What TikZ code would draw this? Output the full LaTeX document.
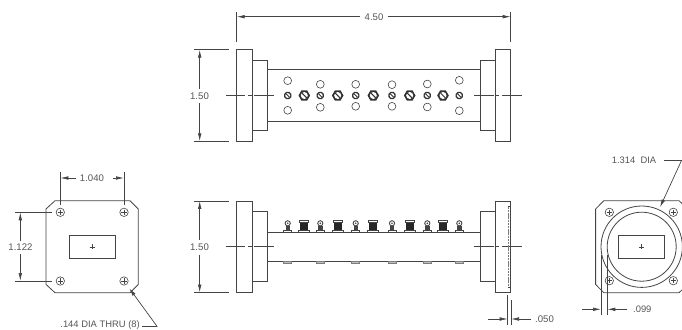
\documentclass[tikz,border=0pt]{standalone}
\usepackage{fontspec}
\setmainfont{Liberation Sans}
\usetikzlibrary{arrows.meta}
\definecolor{ink}{HTML}{444444}
\definecolor{txt}{HTML}{555555}
\tikzset{
  part/.style={draw=ink,line width=0.8pt},
  thin part/.style={draw=ink,line width=0.6pt},
  dimline/.style={draw=ink,line width=0.7pt},
  arr/.style={dimline,-{Latex[length=8pt,width=3.6pt]}},
  lab/.style={text=txt,font=\fontsize{9.6}{10}\selectfont,inner sep=0pt},
  labsm/.style={text=txt,font=\fontsize{9.4}{10}\selectfont,inner sep=0pt},
}
\newcommand{\octa}[3]{% x y r
  \fill[black!80] (#1,#2) +(22.5:#3) -- +(67.5:#3) -- +(112.5:#3) -- +(157.5:#3) -- +(202.5:#3) -- +(247.5:#3) -- +(292.5:#3) -- +(337.5:#3) -- cycle;
  \fill[white] (#1,#2) circle ({0.62*#3});
  \draw[black!80,line width=0.9pt] (#1,#2) +(45:{0.62*#3}) -- +(225:{0.62*#3});
}
\newcommand{\hexa}[3]{% x y r
  \fill[black!80] (#1,#2) +(0:#3) -- +(60:#3) -- +(120:#3) -- +(180:#3) -- +(240:#3) -- +(300:#3) -- cycle;
  \fill[white] (#1,#2) circle ({0.6*#3});
  \draw[black!80,line width=1pt] (#1,#2) +(45:{0.6*#3}) -- +(225:{0.6*#3});
}
\newcommand{\topsmall}[1]{%
  \fill[ink] (#1-2.2,230.5) rectangle (#1+2.2,226);
  \draw[ink,line width=0.7pt] (#1-4,232.3) -- (#1-4,230.2) -- (#1+4,230.2) -- (#1+4,232.3);
  \fill[white,draw=ink,line width=0.9pt] (#1,223.3) circle (2.6);
  \fill[ink] (#1,223.3) circle (0.9);
}
\newcommand{\toplarge}[1]{%
  \fill[black!85] (#1-4,222.7) rectangle (#1+4,230.4);
  \draw[ink,line width=0.9pt] (#1-4.6,220.6) rectangle (#1+4.6,222.4);
  \draw[ink,line width=0.7pt] (#1-5.5,232.3) -- (#1-5.5,230.3) -- (#1+5.5,230.3) -- (#1+5.5,232.3);
}
\newcommand{\tab}[1]{%
  \fill[black!25,draw=ink!70,line width=0.5pt] (#1-4,261.3) rectangle (#1+4,263.7);
}
\newcommand{\hole}[2]{%
  \draw[thin part] (#1,#2) circle (4.2);
  \draw[ink,line width=0.5pt] (#1-2.6,#2) -- (#1+2.6,#2) (#1,#2-2.6) -- (#1,#2+2.6);
}
\newcommand{\flangeview}[1]{%
  \draw[part] (236.7,#1-45.8) rectangle (252,#1+45.8);
  \draw[part] (252,#1-35) rectangle (267.3,#1+35);
  \draw[part] (480.3,#1-35) rectangle (495.3,#1+35);
  \draw[part] (495.3,#1-45.8) rectangle (510.7,#1+45.8);
  \draw[thin part] (226,#1) -- (245.3,#1) (248.3,#1) -- (252,#1) (254,#1) -- (273.7,#1);
  \draw[thin part] (474,#1) -- (494.3,#1) (495.7,#1) -- (499.3,#1) (502,#1) -- (521.7,#1);
}
\begin{document}
\begin{tikzpicture}[x=1pt,y=-1pt]
\useasboundingbox (0,0) rectangle (682,329);
\clip (0,0) rectangle (682,329);

% ---- top view
\flangeview{95.5}
\draw[part] (267.3,69.7) -- (480.3,69.7) (267.3,121.3) -- (480.3,121.3);
\foreach \x/\a/\b in {287.7/80.7/110.3,320.3/84.3/107.3,355.7/84.3/106.3,392/84.7/106.3,427.3/84/107,459.3/80.3/110.7}{
  \draw[thin part] (\x,\a) circle (3.9) (\x,\b) circle (3.9);
  \octa{\x}{95.5}{3.9}
}
\foreach \x in {304.3,337.7,373.3,409.7,443}{\hexa{\x}{95.5}{5.8}}

% dimension 4.50
\coordinate (wl) at (236.7,16.7);
\coordinate (wr) at (510.7,16.7);
\node[lab] (w) at (374,17) {4.50};
\draw[dimline] (236.7,11.7) -- (236.7,41.7) (510.7,11.7) -- (510.7,41.7);
\draw[arr] (w.west) ++(-4,-0.3) -- (wl);
\draw[arr] (w.east) ++(4,-0.3) -- (wr);

% dimension 1.50 (top)
\node[lab] (ha) at (199.5,95.7) {1.50};
\coordinate (hat) at (199.7,49.7);
\coordinate (hab) at (199.7,141.3);
\draw[dimline] (194.3,49.7) -- (228.7,49.7) (194.3,141.3) -- (228.7,141.3);
\draw[arr] (199.7,88.5) -- (hat);
\draw[arr] (199.7,103) -- (hab);

% ---- side view
\flangeview{246.7}
\draw[part] (267.3,232.3) -- (480.3,232.3) (267.3,261.3) -- (480.3,261.3);
\foreach \x in {287.7,320.3,355.7,392,427.3,459.3}{\topsmall{\x}\tab{\x}}
\foreach \x in {304.3,337.7,373.3,409.7,443}{\toplarge{\x}}
\draw[ink!70,line width=0.9pt,dash pattern=on 2.4pt off 0.8pt] (508,206.7) -- (508,287.3);
\draw[ink,line width=0.6pt] (508,206.7) -- (510.7,206.7) (508,287.3) -- (510.7,287.3);

% dimension 1.50 (side)
\node[lab] (hb) at (199.5,247) {1.50};
\coordinate (hbt) at (199.7,200.9);
\coordinate (hbb) at (199.7,292.5);
\draw[dimline] (194.3,200.9) -- (228.7,200.9) (194.3,292.5) -- (228.7,292.5);
\draw[arr] (199.7,239.5) -- (hbt);
\draw[arr] (199.7,254.5) -- (hbb);

% dimension .050
\node[lab,anchor=west] (t) at (535,319.5) {.050};
\coordinate (tl) at (507.7,319);
\coordinate (tr) at (511,319);
\draw[dimline] (507.7,295) -- (507.7,325) (511,300) -- (511,325);
\draw[arr] (487.7,319) -- (tl);
\draw[arr] (531,319) -- (tr);

% ---- left end view
\draw[part] (55,200.7) -- (130,200.7) -- (138.3,209) -- (138.3,284.4) -- (130,292.7) -- (55,292.7) -- (46,284.4) -- (46,209) -- cycle;
\hole{60.3}{212.3}\hole{124}{212.3}\hole{60.3}{281}\hole{124}{281}
\draw[part] (69,235.3) rectangle (115.3,258.3);
\draw[ink,line width=0.5pt] (89.5,246.8) -- (94.5,246.8) (92,244.3) -- (92,249.3);

\node[lab] (c) at (92,178.3) {1.040};
\coordinate (cl) at (60.3,178);
\coordinate (cr) at (124,178);
\draw[dimline] (60.3,172.3) -- (60.3,205) (124,172.3) -- (124,205);
\draw[arr] (76,178) -- (cl);
\draw[arr] (113,178) -- (cr);

\node[lab] (d) at (20.5,247.5) {1.122};
\coordinate (dt) at (20.3,212.3);
\coordinate (db) at (20.3,281);
\draw[dimline] (15,212.3) -- (52,212.3) (15,281) -- (52,281);
\draw[arr] (20.3,241) -- (dt);
\draw[arr] (20.3,254) -- (db);

\node[labsm,anchor=east] (e) at (140,324.6) {.144 DIA THRU (8)};
\coordinate (et) at (129.3,288.3);
\coordinate (eb) at (157.3,326.7);
\draw[dimline] (142.3,326.7) -- (eb);
\draw[arr] (eb) -- (et);

% ---- right end view
\draw[part] (603.8,200.7) -- (679,200.7) -- (687.9,209) -- (687.9,284.4) -- (679,292.7) -- (603.8,292.7) -- (595.6,284.4) -- (595.6,209) -- cycle;
\hole{609.3}{212.3}\hole{673.3}{212.3}\hole{609.3}{280.7}\hole{673.3}{280.7}
\draw[part] (641.7,246.7) circle (40.7);
\draw[part] (641.7,246.7) circle (34.5);
\draw[part] (618.7,235.3) rectangle (664.7,258.3);
\draw[ink,line width=0.5pt] (639.2,246.8) -- (644.2,246.8) (641.7,244.3) -- (641.7,249.3);

\node[labsm] (f) at (634,160.5) {1.314\ \ DIA};
\coordinate (ft) at (660,207.3);
\coordinate (fb) at (681.5,160.5);
\draw[dimline] (664,160.5) -- (fb);
\draw[arr] (fb) -- (ft);

\node[labsm] (g) at (642.3,309) {.099};
\coordinate (gl) at (601,309.3);
\coordinate (gr) at (607.3,309.3);
\draw[dimline] (601,255) -- (601,315) (607.3,255) -- (607.3,315);
\draw[arr] (582,309.3) -- (gl);
\draw[arr] (627.3,309.3) -- (gr);
\end{tikzpicture}
\end{document}
